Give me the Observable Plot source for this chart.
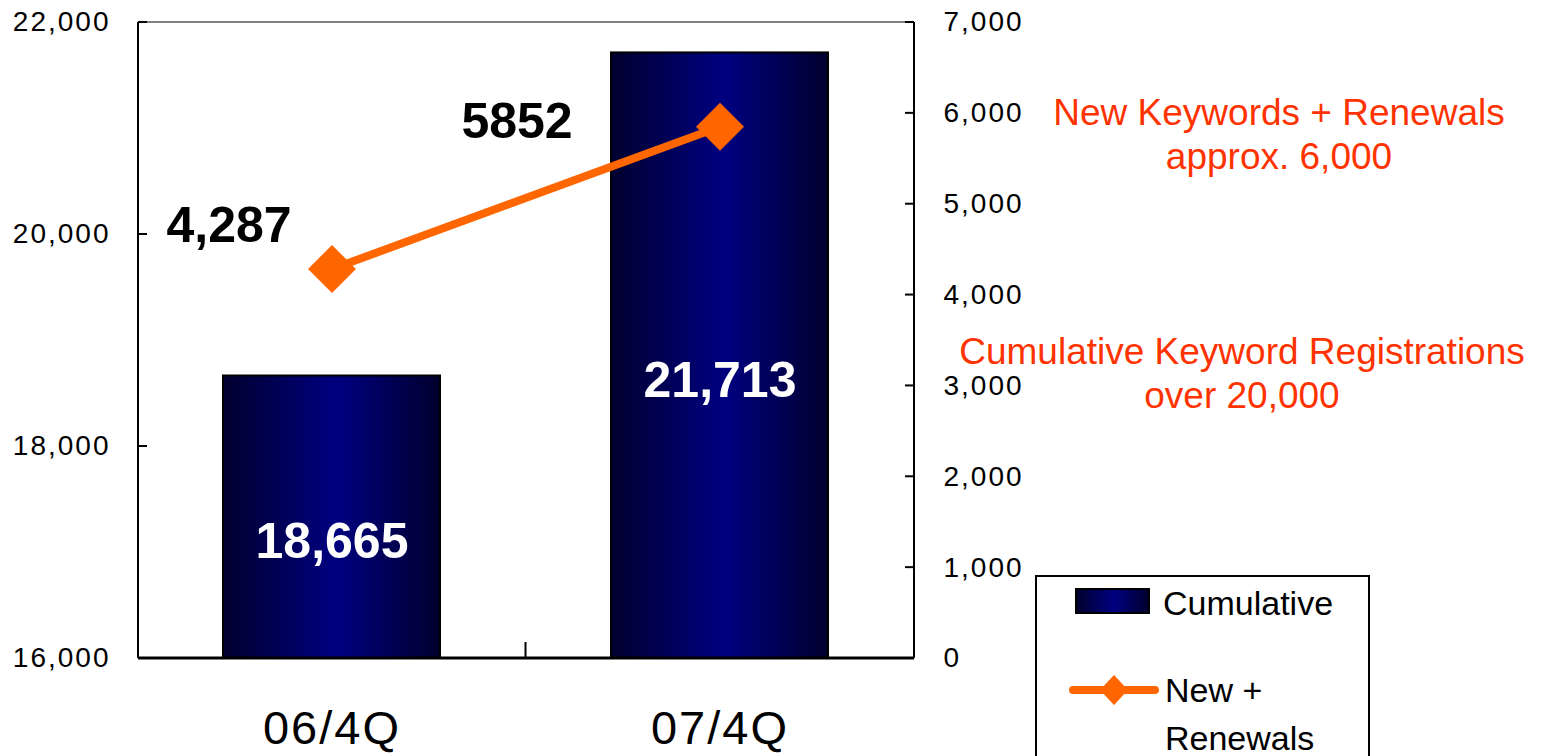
<!DOCTYPE html>
<html><head><meta charset="utf-8">
<script src="https://cdn.jsdelivr.net/npm/d3@7"></script>
<script src="https://cdn.jsdelivr.net/npm/@observablehq/plot@0.6"></script>
<style>
html,body{margin:0;padding:0;background:#fff;overflow:hidden;}
#wrap{position:relative;width:1549px;height:756px;font-family:"Liberation Sans",Arial,sans-serif;}
.ann{position:absolute;color:#FF3300;font-size:37px;text-align:center;line-height:44px;white-space:nowrap;transform:translateX(-50%);}
#legend{position:absolute;left:1035px;top:575px;width:335px;height:230px;border:2px solid #000;box-sizing:border-box;background:#fff;}
.ltxt{position:absolute;font-size:34px;line-height:48px;color:#000;white-space:nowrap;}
</style></head><body><div id="wrap"></div>
<script>
const categories = ["06/4Q", "07/4Q"];
const cumulative = [18665, 21713];
const newRenewals = [4287, 5852];
const barLabels = ["18,665", "21,713"];
const lineLabels = ["4,287", "5852"];
const leftTicks = [16000, 18000, 20000, 22000];
const rightTicks = [0, 1000, 2000, 3000, 4000, 5000, 6000, 7000];
const seriesNames = ["Cumulative", "New +", "Renewals"];
const annoTop = ["New Keywords + Renewals", "approx. 6,000"];
const annoMid = ["Cumulative Keyword Registrations", "over 20,000"];

const yMin = leftTicks[0], yMax = leftTicks[leftTicks.length - 1];
const rMax = rightTicks[rightTicks.length - 1];
const toLeft = v => yMin + v * (yMax - yMin) / rMax;
const fromLeft = v => Math.round((v - yMin) * rMax / (yMax - yMin));

const data = categories.map((c, i) => ({
  cat: c, cum: cumulative[i], nr: newRenewals[i],
  barLabel: barLabels[i], lineLabel: lineLabels[i]
}));

const defsMark = () => {
  const defs = d3.create("svg:defs");
  const g = defs.append("linearGradient").attr("id", "barGrad")
    .attr("x1", "0").attr("x2", "1").attr("y1", "0").attr("y2", "0");
  g.append("stop").attr("offset", "0%").attr("stop-color", "#00002e");
  g.append("stop").attr("offset", "52%").attr("stop-color", "#000080");
  g.append("stop").attr("offset", "100%").attr("stop-color", "#00002e");
  return defs.node();
};

const frameMark = (index, scales, values, dim) => {
  const {width, height, marginLeft: l, marginRight: r, marginTop: t, marginBottom: b} = dim;
  const g = d3.create("svg:g").attr("fill", "none");
  g.append("line").attr("x1", l).attr("x2", width - r).attr("y1", t).attr("y2", t)
    .attr("stroke", "#808080").attr("stroke-width", 2);
  g.append("line").attr("x1", l).attr("x2", l).attr("y1", t).attr("y2", height - b)
    .attr("stroke", "#000").attr("stroke-width", 2);
  g.append("line").attr("x1", width - r).attr("x2", width - r).attr("y1", t).attr("y2", height - b)
    .attr("stroke", "#000").attr("stroke-width", 2);
  g.append("line").attr("x1", l).attr("x2", width - r).attr("y1", height - b).attr("y2", height - b)
    .attr("stroke", "#000").attr("stroke-width", 3);
  const y = scales.y;
  for (const v of leftTicks) {
    g.append("line").attr("x1", l).attr("x2", l + 9).attr("y1", y(v)).attr("y2", y(v))
      .attr("stroke", "#000").attr("stroke-width", 2);
  }
  for (const v of rightTicks) {
    g.append("line").attr("x1", width - r - 9).attr("x2", width - r).attr("y1", y(toLeft(v))).attr("y2", y(toLeft(v)))
      .attr("stroke", "#000").attr("stroke-width", 2);
  }
  const x = scales.x;
  let bw = x.bandwidth;
  if (typeof bw === "function") bw = bw();
  const xb = (x(categories[0]) + bw + x(categories[1])) / 2;
  g.append("line").attr("x1", xb).attr("x2", xb).attr("y1", height - b).attr("y2", height - b - 16)
    .attr("stroke", "#000").attr("stroke-width", 2);
  return g.node();
};

const chart = Plot.plot({
  width: 1549, height: 756,
  marginLeft: 138, marginRight: 635, marginTop: 22, marginBottom: 98,
  style: {fontFamily: "'Liberation Sans', Arial, sans-serif", fontSize: "28px", color: "#000", background: "#fff"},
  x: {domain: categories, paddingInner: 0.44, paddingOuter: 0.22, label: null},
  y: {domain: [yMin, yMax], label: null},
  marks: [
    defsMark,
    Plot.barY(data, {x: "cat", y1: () => yMin, y2: "cum", fill: "url(#barGrad)", stroke: "#000", strokeWidth: 2}),
    Plot.text(data, {x: "cat", y: d => (yMin + d.cum) / 2, text: "barLabel", dy: 25,
      fill: "#fff", fontSize: 50, fontWeight: "bold"}),
    frameMark,
    Plot.axisY({anchor: "left", ticks: leftTicks, tickSize: 0, tickPadding: 28, tickFormat: d3.format(","), fontSize: 28}),
    Plot.axisY({anchor: "right", ticks: rightTicks.map(toLeft), tickSize: 0, tickPadding: 29,
      tickFormat: d => d3.format(",")(fromLeft(d)), fontSize: 28}),
    Plot.axisX({tickSize: 0, tickPadding: 52, fontSize: 47, label: null}),
    Plot.line(data, {x: "cat", y: d => toLeft(d.nr), stroke: "#FF6600", strokeWidth: 8}),
    Plot.dot(data, {x: "cat", y: d => toLeft(d.nr), symbol: "diamond2", r: 21.6, fill: "#FF6600", stroke: "none"}),
    Plot.text([data[0]], {x: "cat", y: d => toLeft(d.nr), text: "lineLabel", dx: -103, dy: -43,
      fill: "#000", fontSize: 50, fontWeight: "bold"}),
    Plot.text([data[1]], {x: "cat", y: d => toLeft(d.nr), text: "lineLabel", dx: -203, dy: -5,
      fill: "#000", fontSize: 50, fontWeight: "bold"})
  ]
});

const svg = d3.select(chart);
svg.selectAll("[aria-label='y-axis tick label'] text").style("letter-spacing", "2px");
svg.selectAll("[aria-label='x-axis tick label']")
  .attr("font-size", 47).style("letter-spacing", "2px");

const wrap = document.getElementById("wrap");
wrap.appendChild(chart);

function addAnn(lines, cx, top) {
  const d = document.createElement("div");
  d.className = "ann";
  d.style.left = cx + "px";
  d.style.top = top + "px";
  d.innerHTML = lines.map(s => s.replace(/&/g, "&amp;")).join("<br>");
  wrap.appendChild(d);
}
addAnn(annoTop, 1279, 91);
addAnn(annoMid, 1242, 330);

const legend = document.createElement("div");
legend.id = "legend";
legend.innerHTML = `
  <div style="position:absolute;left:38px;top:11px;width:75px;height:26px;box-sizing:border-box;border:2px solid #000;background:linear-gradient(to right,#00002e,#000080 52%,#00002e);"></div>
  <div class="ltxt" style="left:126px;top:2px;">${seriesNames[0]}</div>
  <svg style="position:absolute;left:32px;top:93px;" width="92" height="40">
    <line x1="4" x2="86" y1="20" y2="20" stroke="#FF6600" stroke-width="8" stroke-linecap="round"/>
    <path d="M45,5 L59,20 L45,35 L31,20 Z" fill="#FF6600"/>
  </svg>
  <div class="ltxt" style="left:128px;top:89px;">${seriesNames[1]}<br>${seriesNames[2]}</div>`;
wrap.appendChild(legend);
</script>
</body></html>
